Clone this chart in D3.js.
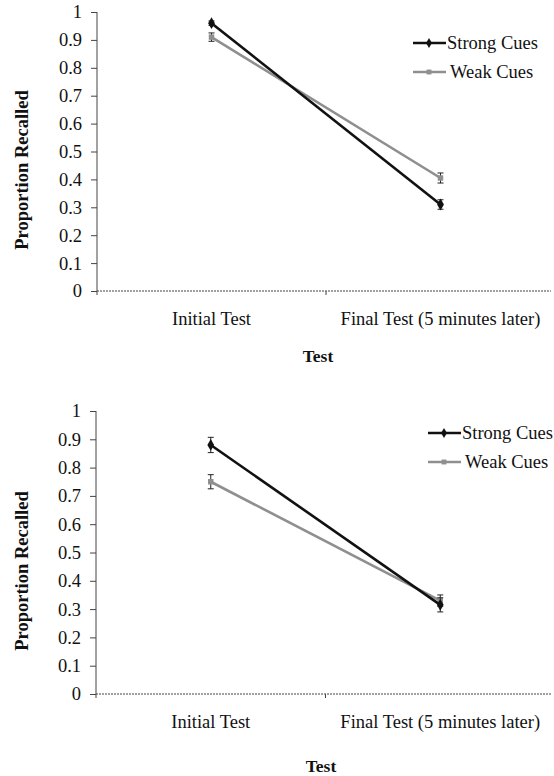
<!DOCTYPE html>
<html>
<head>
<meta charset="utf-8">
<script src="https://cdn.jsdelivr.net/npm/d3@7"></script>
<style>
  body { margin: 0; background: #fff; }
  svg { display: block; font-family: "Liberation Serif", "Times New Roman", serif; }
</style>
</head>
<body>
<svg id="chart" width="554" height="776"></svg>
<script>
// categories and tick labels
var categories = ["Initial Test", "Final Test (5 minutes later)"];
var yTicks = [0, 0.1, 0.2, 0.3, 0.4, 0.5, 0.6, 0.7, 0.8, 0.9, 1];
var seriesNames = ["Strong Cues", "Weak Cues"];

// panel 1 values (proportion recalled) and error bars
var topStrong = [0.96, 0.31];
var topWeak = [0.91, 0.405];
var topStrongErr = [0.008, 0.017];
var topWeakErr = [0.015, 0.018];

// panel 2 values
var botStrong = [0.88, 0.315];
var botWeak = [0.75, 0.33];
var botStrongErr = [0.027, 0.025];
var botWeakErr = [0.025, 0.02];

var fs = 18.5;
var svg = d3.select("#chart");

var panels = [
  { top: 12, bottom: 291, left: 97, right: 555, titleY: 170, tickLabelDy: 34, xTitleDy: 71, xTitleX: 318,
    legendX: 413, legendY: 43,
    strong: topStrong, weak: topWeak, strongErr: topStrongErr, weakErr: topWeakErr },
  { top: 411, bottom: 694, left: 96, right: 555, titleY: 571, tickLabelDy: 34, xTitleDy: 78, xTitleX: 321,
    legendX: 428, legendY: 433,
    strong: botStrong, weak: botWeak, strongErr: botStrongErr, weakErr: botWeakErr }
];

var colors = { "Strong Cues": "#111", "Weak Cues": "#8f8f8f" };

panels.forEach(function(p) {
  var g = svg.append("g");

  var x = d3.scaleBand().domain(categories).range([p.left, p.right]).padding(0);
  var y = d3.scaleLinear().domain([0, 1]).range([p.bottom, p.top]);

  // y axis
  var yAxis = d3.axisLeft(y).tickValues(yTicks).tickSize(6).tickPadding(9)
    .tickFormat(function(d) { return d === 0 ? "0" : d === 1 ? "1" : d3.format(".1f")(d); });
  var ya = g.append("g").attr("transform", "translate(" + p.left + ",0)").call(yAxis);
  ya.select(".domain").attr("stroke", "#444").attr("d", "M0," + p.top + "V" + (p.bottom + 4));
  ya.selectAll(".tick line").attr("stroke", "#444");
  ya.selectAll("text").attr("font-size", fs).attr("fill", "#111").attr("font-family", "Liberation Serif");

  // x axis line with boundary tick
  g.append("line")
    .attr("x1", p.left).attr("x2", p.right - 4)
    .attr("y1", p.bottom).attr("y2", p.bottom)
    .attr("stroke", "#444").attr("stroke-dasharray", "2,1");
  g.append("line")
    .attr("x1", x(categories[1])).attr("x2", x(categories[1]))
    .attr("y1", p.bottom).attr("y2", p.bottom + 4)
    .attr("stroke", "#444");

  // x tick labels
  g.selectAll(".xlab").data(categories).enter().append("text")
    .attr("x", function(d) { return x(d) + x.bandwidth() / 2; })
    .attr("y", p.bottom + p.tickLabelDy)
    .attr("text-anchor", "middle")
    .attr("font-size", fs).attr("fill", "#111")
    .text(function(d) { return d; });

  // axis titles
  g.append("text")
    .attr("x", p.xTitleX).attr("y", p.bottom + p.xTitleDy)
    .attr("text-anchor", "middle").attr("font-weight", "bold")
    .attr("font-size", fs - 1).attr("fill", "#111")
    .text("Test");
  g.append("text")
    .attr("transform", "translate(28," + p.titleY + ") rotate(-90)")
    .attr("text-anchor", "middle").attr("font-weight", "bold")
    .attr("font-size", fs).attr("fill", "#111")
    .text("Proportion Recalled");

  var series = [
    { name: seriesNames[1], values: p.weak, err: p.weakErr },
    { name: seriesNames[0], values: p.strong, err: p.strongErr }
  ];

  var line = d3.line()
    .x(function(d, i) { return x(categories[i]) + x.bandwidth() / 2; })
    .y(function(d) { return y(d); });

  series.forEach(function(s) {
    var c = colors[s.name];
    g.append("path").datum(s.values)
      .attr("d", line).attr("fill", "none")
      .attr("stroke", c).attr("stroke-width", 2.6);

    s.values.forEach(function(v, i) {
      var cx = x(categories[i]) + x.bandwidth() / 2;
      var e = s.err[i];
      g.append("line").attr("x1", cx).attr("x2", cx)
        .attr("y1", y(v + e)).attr("y2", y(v - e))
        .attr("stroke", "#222").attr("stroke-width", 1);
      [v + e, v - e].forEach(function(w) {
        g.append("line").attr("x1", cx - 3).attr("x2", cx + 3)
          .attr("y1", y(w)).attr("y2", y(w))
          .attr("stroke", "#222").attr("stroke-width", 1);
      });
      g.append("path")
        .attr("d", d3.symbol().type(s.name === "Strong Cues" ? d3.symbolDiamond : d3.symbolSquare).size(s.name === "Strong Cues" ? 40 : 30)())
        .attr("transform", "translate(" + cx + "," + y(v) + ")")
        .attr("fill", c);
    });
  });

  // legend
  seriesNames.forEach(function(name, i) {
    var ly = p.legendY + i * 29;
    var c = colors[name];
    g.append("line").attr("x1", p.legendX).attr("x2", p.legendX + 33)
      .attr("y1", ly).attr("y2", ly)
      .attr("stroke", c).attr("stroke-width", 2.4);
    g.append("path")
      .attr("d", d3.symbol().type(i === 0 ? d3.symbolDiamond : d3.symbolSquare).size(i === 0 ? 30 : 24)())
      .attr("transform", "translate(" + (p.legendX + 16) + "," + ly + ")")
      .attr("fill", c);
    g.append("text")
      .attr("x", p.legendX + 34 + (i === 0 ? 0 : 3)).attr("y", ly + 6)
      .attr("font-size", fs).attr("fill", "#111")
      .text(name);
  });
});
</script>
</body>
</html>
